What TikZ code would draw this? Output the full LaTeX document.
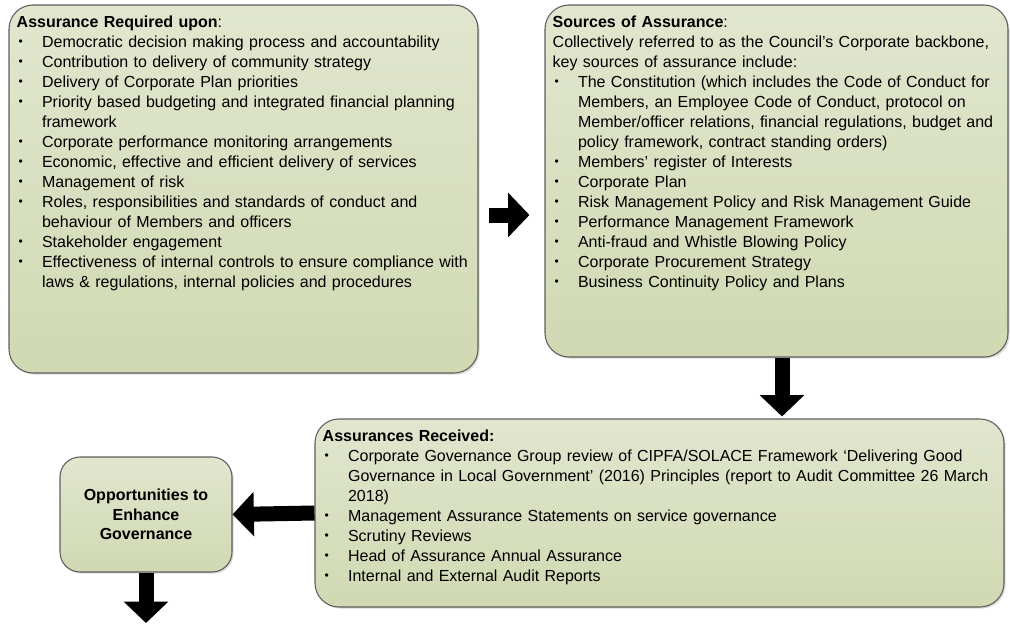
\documentclass[tikz,border=0pt]{standalone}
\usepackage{fontspec}
\setmainfont{Liberation Sans}
\usepackage{tikz}
\usetikzlibrary{arrows.meta,shadows}
\definecolor{PanelTop}{HTML}{E1E6CE}
\definecolor{PanelBottom}{HTML}{D0D9B2}
\definecolor{PanelEdge}{HTML}{5E5E5E}
\newcommand{\bitem}{\par\noindent\hangindent=19pt\hangafter=1\makebox[19pt][l]{\hspace{1.5pt}\raisebox{1.1pt}{\fontsize{9}{9}\selectfont\textbullet}}}
\newcommand{\nl}{\hfil\break}

\begin{document}
\begin{tikzpicture}[x=0.75pt,y=-0.75pt,
  panel/.style={draw=PanelEdge, line width=0.8pt, rounded corners=18pt,
    top color=PanelTop, bottom color=PanelBottom, inner sep=0pt,
    drop shadow={shadow xshift=1.2pt, shadow yshift=-1.2pt, opacity=0.3}},
  paneltext/.style={anchor=north west, inner sep=0pt, text width=#1,
    font=\fontsize{12}{15}\selectfont},
  blockarrow/.style={line width=11.25pt, -{Triangle[length=16pt, width=32.5pt]}}]
  \useasboundingbox (0,0) rectangle (1010,625);

  \node[panel, minimum width=351.75pt, minimum height=276pt] (required) at (243.5,189) {};
  \node[panel, minimum width=347.25pt, minimum height=264pt] (sources) at (776.5,181) {};
  \node[panel, minimum width=516.75pt, minimum height=141pt] (received) at (659.5,513) {};
  \node[panel, rounded corners=15pt, minimum width=129pt, minimum height=86.25pt] (enhance) at (146,514.5)
    {\parbox{120pt}{\centering\fontsize{12}{14.6}\selectfont\bfseries Opportunities to\\ Enhance\\ Governance}};

  \node[paneltext=345pt] (requiredtxt) at ([shift={(8,11)}]required.north west) {%
    \noindent\textbf{Assurance Required upon}:
    \bitem Democratic decision making process and accountability
    \bitem Contribution to delivery of community strategy
    \bitem Delivery of Corporate Plan priorities
    \bitem Priority based budgeting and integrated financial planning\nl framework
    \bitem Corporate performance monitoring arrangements
    \bitem Economic, effective and efficient delivery of services
    \bitem Management of risk
    \bitem Roles, responsibilities and standards of conduct and\nl behaviour of Members and officers
    \bitem Stakeholder engagement
    \bitem Effectiveness of internal controls to ensure compliance with\nl laws \& regulations, internal policies and procedures\par};

  \node[paneltext=338pt] (sourcestxt) at ([shift={(8,11)}]sources.north west) {%
    \noindent\textbf{Sources of Assurance}:\nl
    Collectively referred to as the Council’s Corporate backbone,\nl key sources of assurance include:
    \bitem The Constitution (which includes the Code of Conduct for\nl Members, an Employee Code of Conduct, protocol on\nl Member/officer relations, financial regulations, budget and\nl policy framework, contract standing orders)
    \bitem Members’ register of Interests
    \bitem Corporate Plan
    \bitem Risk Management Policy and Risk Management Guide
    \bitem Performance Management Framework
    \bitem Anti-fraud and Whistle Blowing Policy
    \bitem Corporate Procurement Strategy
    \bitem Business Continuity Policy and Plans\par};

  \node[paneltext=510pt] (receivedtxt) at ([shift={(8,11)}]received.north west) {%
    \noindent\textbf{Assurances Received:}
    \bitem Corporate Governance Group review of CIPFA/SOLACE Framework ‘Delivering Good\nl Governance in Local Government’ (2016) Principles (report to Audit Committee 26 March\nl 2018)
    \bitem Management Assurance Statements on service governance
    \bitem Scrutiny Reviews
    \bitem Head of Assurance Annual Assurance
    \bitem Internal and External Audit Reports\par};

  \coordinate (onward) at (146,623);
  \draw[blockarrow] ([shift={(10,26)}]required.east) -- ([shift={(-15,26)}]required.east -| sources.west);
  \draw[blockarrow] ([shift={(5.5,0)}]sources.south) -- ([shift={(5.5,-2)}]sources.south |- received.north);
  \draw[blockarrow] (received.west) -- (enhance.east);
  \draw[blockarrow] (enhance.south) -- (onward);
\end{tikzpicture}
\end{document}
